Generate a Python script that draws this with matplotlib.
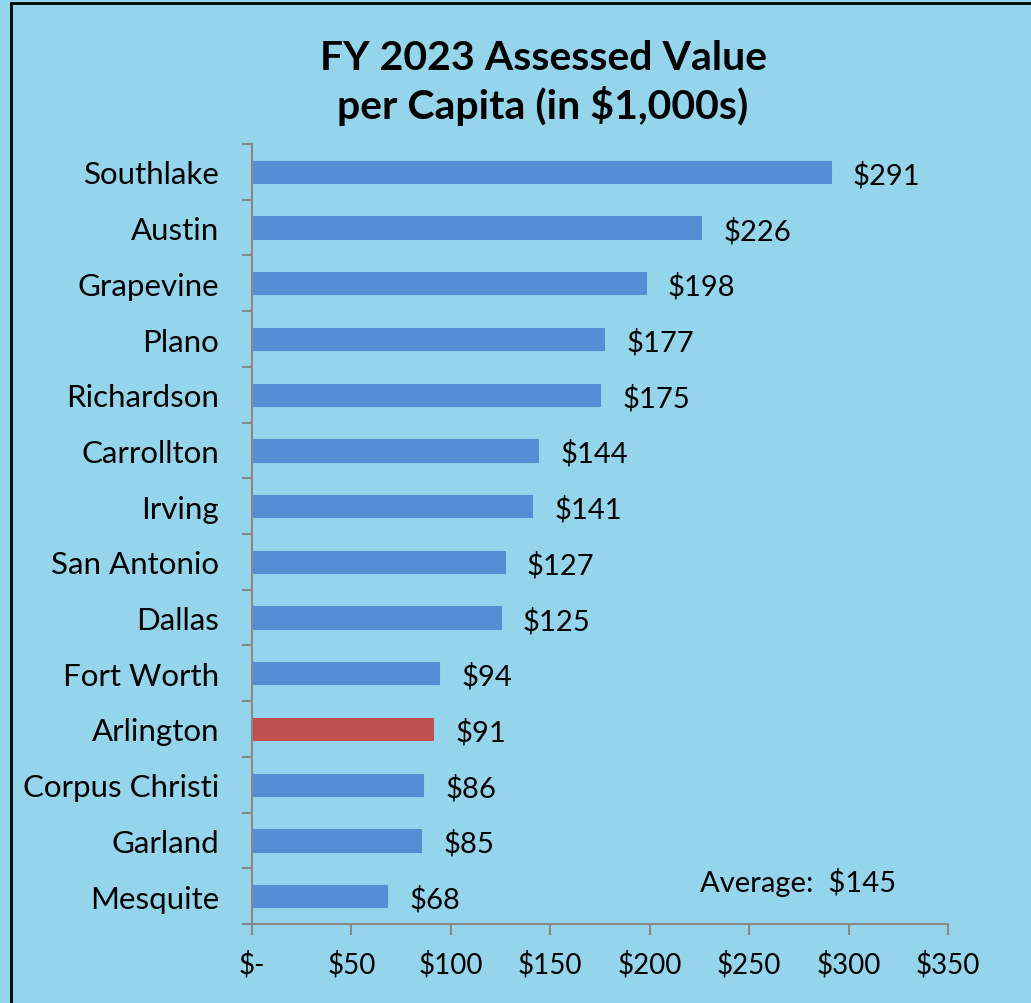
import matplotlib
matplotlib.use("Agg")
import matplotlib.pyplot as plt
from matplotlib.patches import Rectangle
from matplotlib.ticker import FixedLocator, FuncFormatter
import numpy as np

cities = ["Southlake", "Austin", "Grapevine", "Plano", "Richardson", "Carrollton",
          "Irving", "San Antonio", "Dallas", "Fort Worth", "Arlington",
          "Corpus Christi", "Garland", "Mesquite"]
values = [291, 226, 198, 177, 175, 144, 141, 127, 125, 94, 91, 86, 85, 68]
highlight = "Arlington"
xticks = [0, 50, 100, 150, 200, 250, 300, 350]
title = "FY 2023 Assessed Value\nper Capita (in $1,000s)"

BG = "#95D5EC"
BLUE = "#558ED5"
RED = "#C0504D"
AXC = "#888888"
FONT = "Lato"

plt.rcParams['font.family'] = [FONT, 'DejaVu Sans']

W, H = 1031, 1004
fig = plt.figure(figsize=(W / 100, H / 100), dpi=100, facecolor=BG)

# border (top and left visible)
fig.patches.append(Rectangle((11 / W, -0.1), 1.2, 1 - 4 / H + 0.1, transform=fig.transFigure,
                             fill=False, edgecolor="black", linewidth=2, zorder=0))

ax = fig.add_axes([252 / W, 1 - 925 / H, 696 / W, 780 / H])
ax.set_facecolor(BG)

n = len(cities)
y = np.arange(n)
colors = [RED if c == highlight else BLUE for c in cities]
ax.barh(y, values, height=0.4, color=colors, edgecolor=colors, linewidth=0.8)
ax.set_ylim(n - 0.5, -0.5)
ax.set_xlim(0, 350)

for yi, v in zip(y, values):
    ax.annotate(f"${v}", xy=(v, yi), xytext=(16, -2), textcoords="offset points",
                ha="left", va="center", fontsize=21, color="black")

ax.set_yticks(y)
ax.set_yticklabels(cities, fontsize=22.5)
ax.yaxis.set_minor_locator(FixedLocator(np.arange(-0.5, n, 1.0)))
ax.tick_params(axis="y", which="major", length=0, pad=23.5)
ax.tick_params(axis="y", which="minor", length=7, width=1.5, color=AXC, direction="out")

ax.xaxis.set_major_locator(FixedLocator(xticks))
ax.xaxis.set_major_formatter(FuncFormatter(lambda v, p: "$-" if v == 0 else f"${int(v)}"))
ax.tick_params(axis="x", which="major", length=8, width=1.5, color=AXC, direction="out",
               labelsize=20, pad=11)

for s in ["top", "right"]:
    ax.spines[s].set_visible(False)
for s in ["left", "bottom"]:
    ax.spines[s].set_color(AXC)
    ax.spines[s].set_linewidth(1.5)

avg = round(float(np.mean(values)))
ax.text(0.644, 0.055, f"Average:  ${avg}", transform=ax.transAxes, ha="left", va="center",
        fontsize=21, color="black")

fig.text(543 / W, 1 - 83 / H, title, ha="center", va="center", fontsize=29.5,
         fontweight="bold", linespacing=1.3)

fig.savefig("out.png", dpi=100, facecolor=BG)
